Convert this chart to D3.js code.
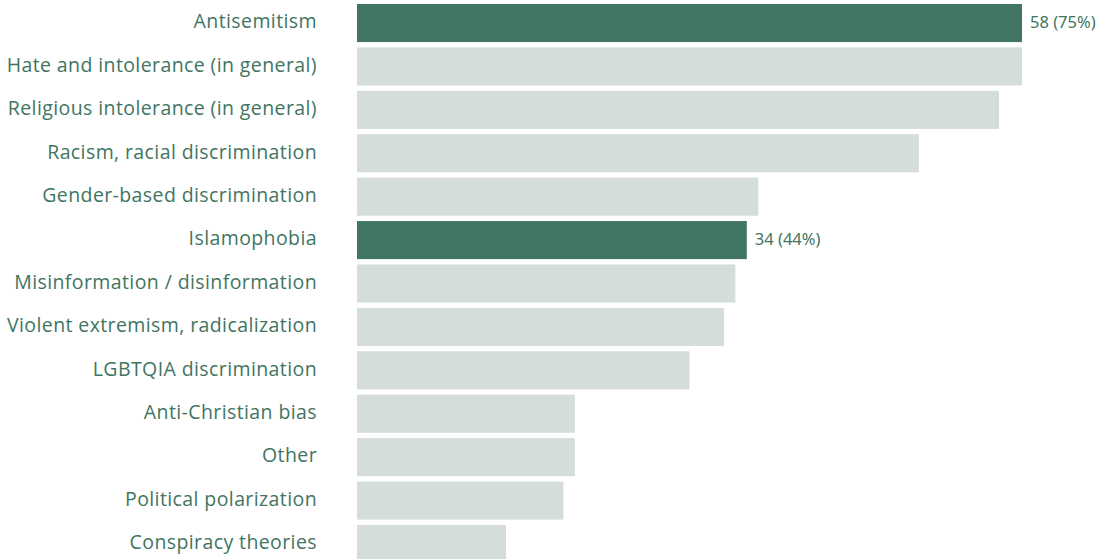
<!DOCTYPE html>
<html>
<head>
<meta charset="utf-8">
<script src="https://cdn.jsdelivr.net/npm/d3@7"></script>
<style>
  body { margin: 0; background: #fff; }
  svg { display: block; }
</style>
</head>
<body>
<div id="chart"></div>
<script>
const categories = [
  'Antisemitism',
  'Hate and intolerance (in general)',
  'Religious intolerance (in general)',
  'Racism, racial discrimination',
  'Gender-based discrimination',
  'Islamophobia',
  'Misinformation / disinformation',
  'Violent extremism, radicalization',
  'LGBTQIA discrimination',
  'Anti-Christian bias',
  'Other',
  'Political polarization',
  'Conspiracy theories'
];
const counts = [58, 58, 56, 49, 35, 34, 33, 32, 29, 19, 19, 18, 13];
const highlighted = ['Antisemitism', 'Islamophobia'];
const valueLabels = { 'Antisemitism': '58 (75%)', 'Islamophobia': '34 (44%)' };

const data = categories.map((c, i) => ({ name: c, value: counts[i] }));

const width = 1105, height = 559;
const margin = { top: 4, right: 83, bottom: 0, left: 357 };

const svg = d3.select('#chart').append('svg')
  .attr('width', width)
  .attr('height', height);

const x = d3.scaleLinear()
  .domain([0, 58])
  .range([margin.left, width - margin.right]);

const y = d3.scaleBand()
  .domain(categories)
  .range([margin.top, margin.top + 43 * categories.length])
  .paddingInner(0.123)
  .paddingOuter(0);

// --- Bars ---
svg.selectAll('.bar')
  .data(data)
  .enter().append('rect')
  .attr('class', 'bar')
  .attr('x', x(0))
  .attr('y', d => y(d.name))
  .attr('width', d => x(d.value) - x(0))
  .attr('height', y.bandwidth())
  .attr('fill', d => highlighted.includes(d.name) ? '#417662' : '#d4ddd8');

// --- Category labels ---
svg.selectAll('.label')
  .data(data)
  .enter().append('text')
  .attr('class', 'label')
  .attr('x', 317)
  .attr('y', d => y(d.name) + y.bandwidth() / 2 - 1.5)
  .attr('dy', '0.35em')
  .attr('text-anchor', 'end')
  .attr('fill', '#3f7561')
  .style('font-family', '"Open Sans", sans-serif')
  .style('font-size', '19.5px')
  .style('letter-spacing', '0.4px')
  .text(d => d.name);

// --- Value labels ---
svg.selectAll('.value')
  .data(data.filter(d => valueLabels[d.name]))
  .enter().append('text')
  .attr('class', 'value')
  .attr('x', d => x(d.value) + 8)
  .attr('y', d => y(d.name) + y.bandwidth() / 2 - 1)
  .attr('dy', '0.35em')
  .attr('fill', '#3f7561')
  .style('font-family', '"Noto Sans", sans-serif')
  .style('font-size', '16.5px')
  .text(d => valueLabels[d.name]);
</script>
</body>
</html>
